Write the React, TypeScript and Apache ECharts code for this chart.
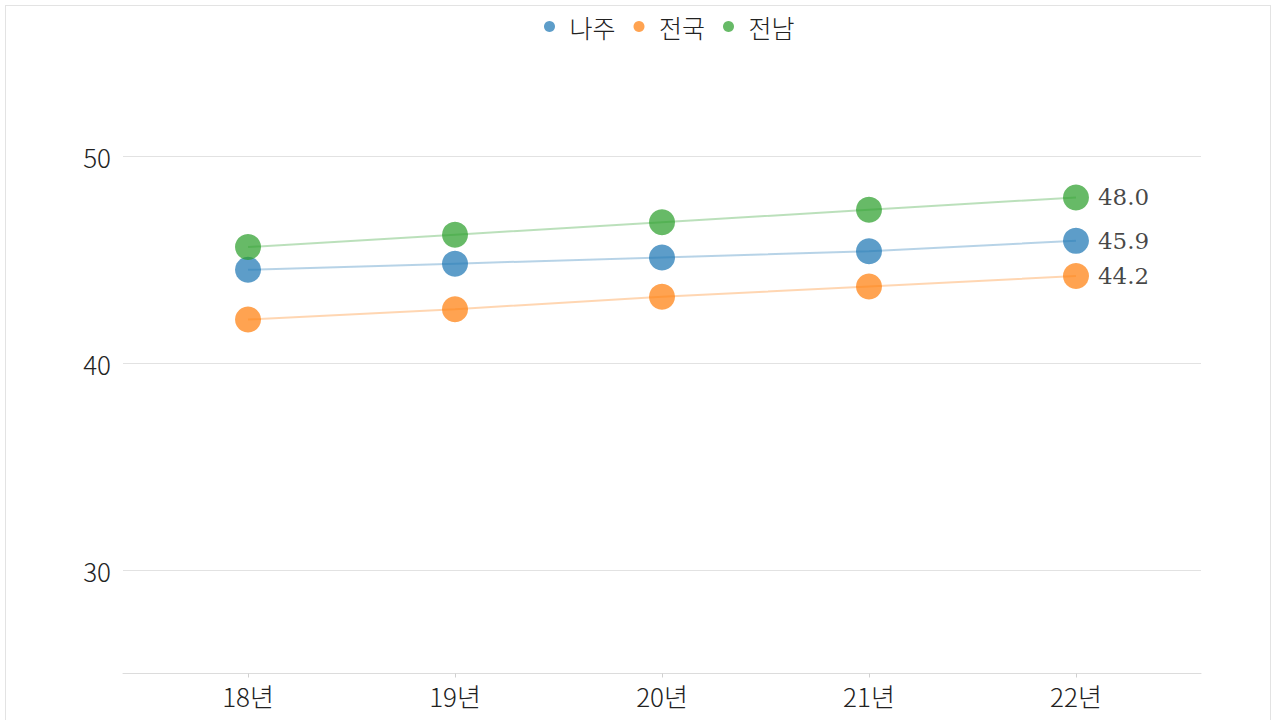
import React, { useEffect, useRef } from "react";
import * as echarts from "echarts";

const categories = ["18년", "19년", "20년", "21년", "22년"];
const seriesNames = ["나주", "전국", "전남"];
const najuValues = [44.5, 44.8, 45.1, 45.4, 45.9];
const nationValues = [42.1, 42.6, 43.2, 43.7, 44.2];
const jeonnamValues = [45.6, 46.2, 46.8, 47.4, 48.0];
const yTickLabels = [30, 40, 50];
const colors = ["#1f77b4", "#ff7f0e", "#2ca02c"];

export default function App() {
  const ref = useRef<HTMLDivElement>(null);
  useEffect(() => {
    if (!ref.current) return;
    const chart = echarts.init(ref.current, null, { renderer: "svg" });
    const allValues = [najuValues, nationValues, jeonnamValues];
    const catIdx = categories.map((_, i) => i);
    const series: any[] = allValues.map((vals, s) => ({
      name: seriesNames[s],
      type: "line",
      data: vals.map((v, i) => [i, v]),
      symbol: "circle",
      symbolSize: 26,
      itemStyle: { color: colors[s], opacity: 0.72 },
      lineStyle: { color: colors[s], width: 2, opacity: 0.32 },
      emphasis: { disabled: true },
      label: {
        show: true,
        position: "right",
        distance: 9,
        fontFamily: "DejaVu Serif",
        fontSize: 23,
        color: "#000",
        formatter: (p: any) =>
          p.dataIndex === vals.length - 1 ? Number(p.value[1]).toFixed(1) : "",
      },
      z: 3,
    }));
    series[0].markLine = {
      silent: true,
      symbol: ["none", "none"],
      label: { show: false },
      emphasis: { disabled: true },
      lineStyle: { color: "#e2e2e2", type: "solid", width: 1 },
      data: yTickLabels.map((v) => ({ yAxis: v })),
      z: 1,
    };
    chart.setOption({
      animation: false,
      legend: {
        data: seriesNames.map((n) => ({ name: n, icon: "circle" })),
        left: 533,
        top: 3,
        itemWidth: 30,
        itemHeight: 11,
        itemGap: 18,
        textStyle: {
          fontFamily: "Noto Sans CJK KR",
          fontWeight: 300,
          fontSize: 25,
          color: "#222",
        },
        selectedMode: false,
      },
      grid: { left: 117, right: 69, top: 46.5, bottom: 70.5 },
      xAxis: {
        type: "value",
        min: -0.604,
        max: 4.604,
        axisLine: { show: true, lineStyle: { color: "#dcdcdc", width: 1 } },
        axisTick: {
          show: true,
          length: 4,
          lineStyle: { color: "#d0d0d0" },
          customValues: catIdx,
        },
        axisLabel: {
          customValues: catIdx,
          margin: 9,
          fontFamily: "Noto Sans CJK KR",
          fontWeight: 300,
          fontSize: 26,
          color: "#222",
          formatter: (v: number) =>
            Number.isInteger(v) && categories[v] !== undefined ? categories[v] : "",
        },
        splitLine: { show: false },
      },
      yAxis: {
        type: "value",
        min: 25,
        max: 55,
        interval: 5,
        axisLine: { show: false },
        axisTick: { show: false },
        splitLine: { show: false },
        axisLabel: {
          margin: 12,
          fontFamily: "Noto Sans CJK KR",
          fontWeight: 300,
          fontSize: 26,
          color: "#222",
          formatter: (v: number) => (yTickLabels.includes(v) ? String(v) : ""),
        },
      },
      series,
    });
    return () => chart.dispose();
  }, []);
  return (
    <div
      style={{
        position: "fixed",
        left: 5,
        top: 5,
        width: 1266,
        height: 740,
        boxSizing: "border-box",
        border: "1px solid #e3e3e3",
        background: "#fff",
      }}
    >
      <div ref={ref} style={{ width: 1264, height: 738 }} />
    </div>
  );
}
